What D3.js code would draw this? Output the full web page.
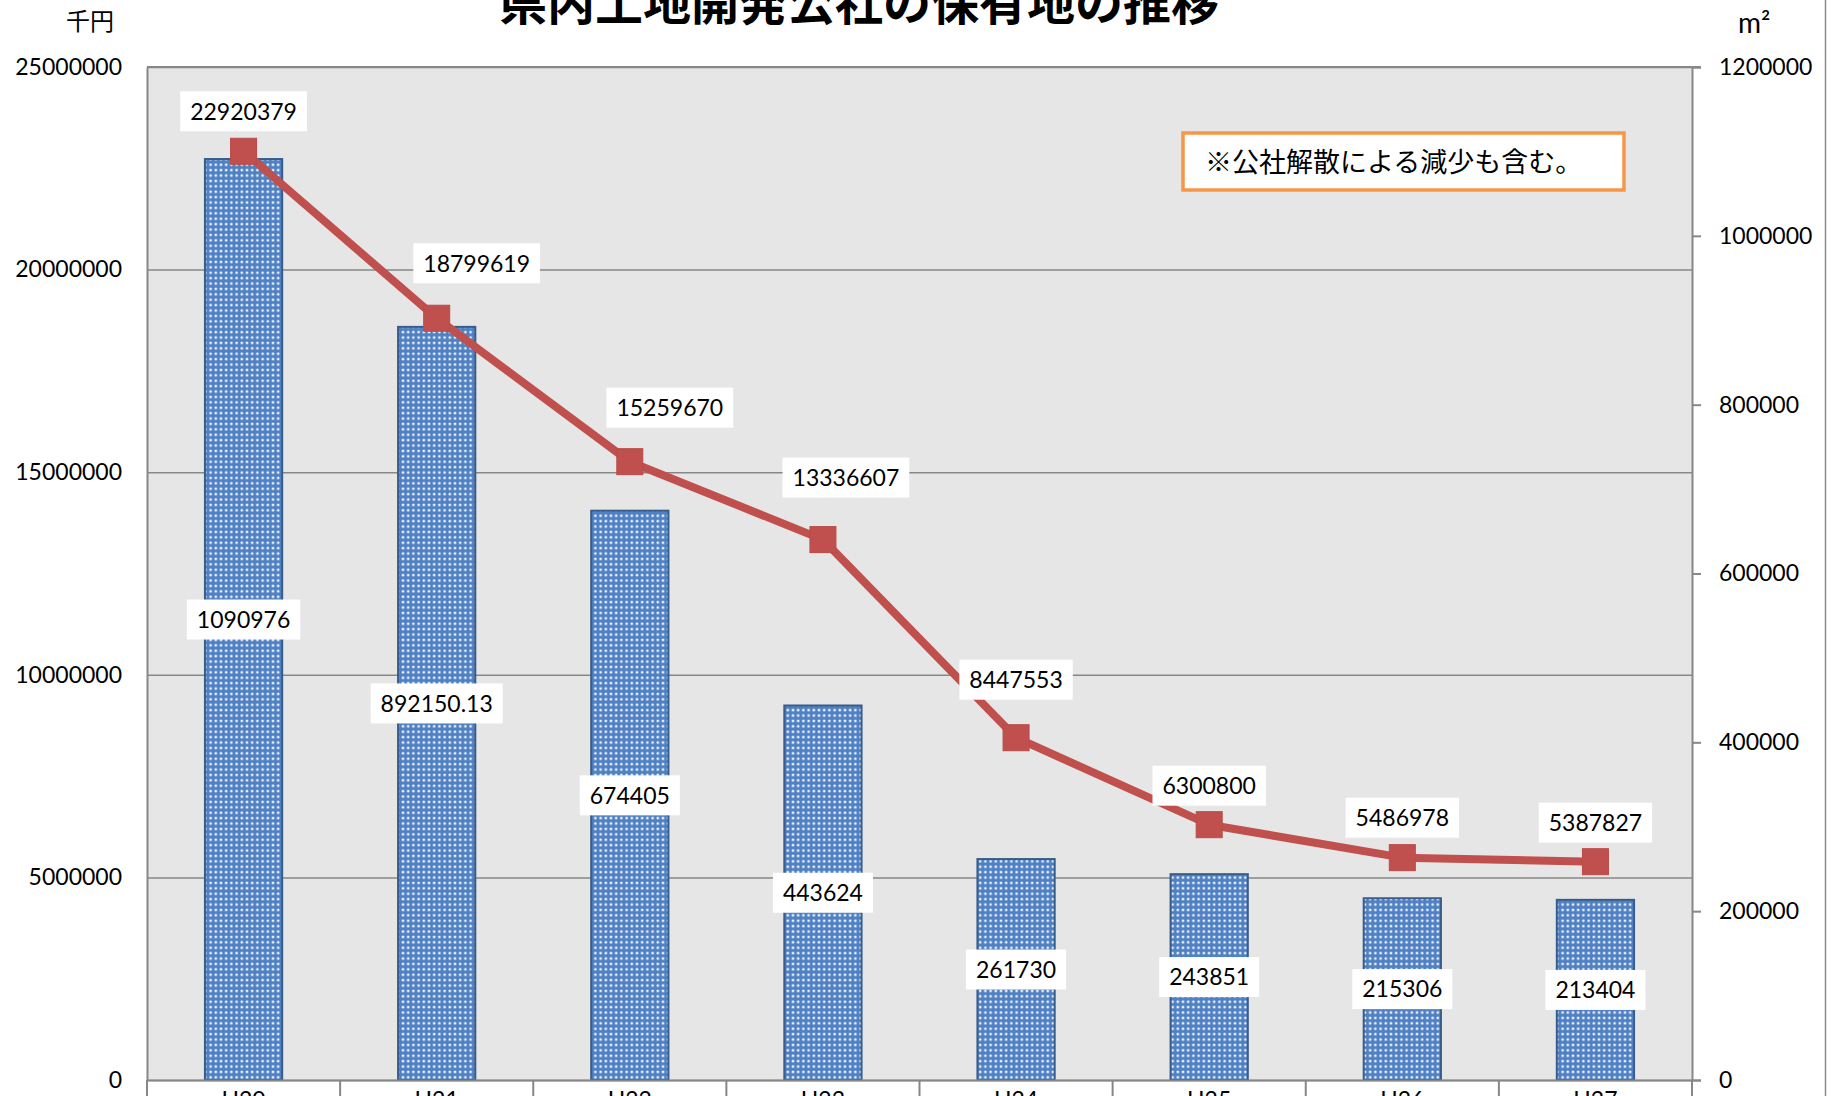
<!DOCTYPE html>
<html>
<head>
<meta charset="utf-8">
<script src="https://cdn.jsdelivr.net/npm/d3@7"></script>
<style>
  html, body { margin: 0; padding: 0; background: #fff; overflow: hidden; }
  svg { display: block; }
</style>
</head>
<body>
<div id="chart"></div>
<script>
// categories (fiscal years) and the two series
const categories = ["H20", "H21", "H22", "H23", "H24", "H25", "H26", "H27"];
const areaValues = [1090976, 892150.13, 674405, 443624, 261730, 243851, 215306, 213404]; // m2, bars, right axis
const costValues = [22920379, 18799619, 15259670, 13336607, 8447553, 6300800, 5486978, 5387827]; // 千円, line, left axis
const leftTicks = [0, 5000000, 10000000, 15000000, 20000000, 25000000];
const rightTicks = [0, 200000, 400000, 600000, 800000, 1000000, 1200000];

// line labels were moved by hand in the original, keep the nudges separate
const lineLabelNudge = [[0, -40], [40, -55], [40, -54], [23, -62], [0, -58], [0, -39], [0, -40], [0, -39]];

const width = 1833;
const height = 1096;
const plot = { left: 147, right: 1692, top: 67, bottom: 1080 };
const numFont = "Lato, 'Noto Sans', sans-serif";
const jpFont = "'Noto Sans CJK JP', sans-serif";

const svg = d3
  .select("#chart")
  .append("svg")
  .attr("width", width)
  .attr("height", height);

// dotted fill of the bars
const pattern = svg
  .append("defs")
  .append("pattern")
  .attr("id", "dots")
  .attr("patternUnits", "userSpaceOnUse")
  .attr("width", 5.2)
  .attr("height", 5.4);
pattern.append("rect").attr("width", 5.2).attr("height", 5.4).attr("fill", "#4f80c2");
pattern
  .append("circle")
  .attr("cx", 2.6)
  .attr("cy", 2.7)
  .attr("r", 1.65)
  .attr("fill", "#9dbbe6");
pattern
  .append("circle")
  .attr("cx", 2.6)
  .attr("cy", 2.7)
  .attr("r", 1.0)
  .attr("fill", "#ffffff");

// scales
const xCat = d3.scaleBand().domain(categories).range([plot.left, plot.right]);
const xBar = d3
  .scaleBand()
  .domain(categories)
  .range([plot.left, plot.right])
  .paddingInner(0.6)
  .paddingOuter(0.3);
const yLeft = d3.scaleLinear().domain([0, 25000000]).range([plot.bottom, plot.top]);
const yRight = d3.scaleLinear().domain([0, 1200000]).range([plot.bottom, plot.top]);

// plot background
svg
  .append("rect")
  .attr("x", plot.left)
  .attr("y", plot.top)
  .attr("width", plot.right - plot.left)
  .attr("height", plot.bottom - plot.top)
  .attr("fill", "#e6e6e6");

// gridlines
svg
  .append("g")
  .attr("transform", `translate(${plot.left},0)`)
  .call(
    d3
      .axisLeft(yLeft)
      .tickValues(leftTicks)
      .tickSize(-(plot.right - plot.left))
      .tickFormat("")
  )
  .call((g) => g.select(".domain").remove())
  .call((g) => g.selectAll("line").attr("stroke", "#878787").attr("stroke-width", 1.5));

// bars
svg
  .append("g")
  .selectAll("rect")
  .data(areaValues)
  .join("rect")
  .attr("x", (d, i) => xBar(categories[i]))
  .attr("y", (d) => yRight(d))
  .attr("width", xBar.bandwidth())
  .attr("height", (d) => plot.bottom - yRight(d))
  .attr("fill", "url(#dots)")
  .attr("stroke", "#385d8a")
  .attr("stroke-width", 2);

// left axis (千円)
svg
  .append("g")
  .attr("transform", `translate(${plot.left},0)`)
  .call(d3.axisLeft(yLeft).tickValues(leftTicks).tickSize(0).tickPadding(25).tickFormat(d3.format("d")))
  .call((g) => g.select(".domain").attr("stroke", "#878787").attr("stroke-width", 2))
  .call((g) => g.selectAll("text").attr("font-family", numFont).attr("font-size", 23).attr("fill", "#000"));

// right axis (m2)
svg
  .append("g")
  .attr("transform", `translate(${plot.right},0)`)
  .call(d3.axisRight(yRight).tickValues(rightTicks).tickSize(9).tickSizeOuter(9).tickPadding(18).tickFormat(d3.format("d")))
  .call((g) => g.select(".domain").attr("stroke", "#878787").attr("stroke-width", 2))
  .call((g) => g.selectAll("line").attr("stroke", "#878787").attr("stroke-width", 2))
  .call((g) => g.selectAll("text").attr("font-family", numFont).attr("font-size", 23).attr("fill", "#000"));

// right axis continues down past the category row
svg
  .append("line")
  .attr("x1", plot.right)
  .attr("x2", plot.right)
  .attr("y1", plot.bottom)
  .attr("y2", height)
  .attr("stroke", "#878787")
  .attr("stroke-width", 2);

// top border of plot area
svg
  .append("line")
  .attr("x1", plot.left)
  .attr("x2", plot.right + 9)
  .attr("y1", plot.top)
  .attr("y2", plot.top)
  .attr("stroke", "#878787")
  .attr("stroke-width", 2);

// category axis
svg
  .append("g")
  .attr("transform", `translate(0,${plot.bottom})`)
  .call(d3.axisBottom(xCat).tickSize(0).tickPadding(12))
  .call((g) => g.select(".domain").attr("stroke", "#878787").attr("stroke-width", 2))
  .call((g) => g.selectAll("text").attr("font-family", numFont).attr("font-size", 23).attr("fill", "#000"));

// separators between categories
svg
  .append("g")
  .selectAll("line")
  .data(categories.concat([null]))
  .join("line")
  .attr("x1", (d) => (d === null ? plot.right : xCat(d)))
  .attr("x2", (d) => (d === null ? plot.right : xCat(d)))
  .attr("y1", plot.bottom)
  .attr("y2", height)
  .attr("stroke", "#878787")
  .attr("stroke-width", 2);

// cost line
const line = d3
  .line()
  .x((d, i) => xCat(categories[i]) + xCat.bandwidth() / 2)
  .y((d) => yLeft(d));

svg
  .append("path")
  .datum(costValues)
  .attr("d", line)
  .attr("fill", "none")
  .attr("stroke", "#c0504d")
  .attr("stroke-width", 8)
  .attr("stroke-linejoin", "round");

const marker = 26;
svg
  .append("g")
  .selectAll("rect")
  .data(costValues)
  .join("rect")
  .attr("x", (d, i) => xCat(categories[i]) + xCat.bandwidth() / 2 - marker / 2)
  .attr("y", (d) => yLeft(d) - marker / 2)
  .attr("width", marker)
  .attr("height", marker)
  .attr("fill", "#c0504d")
  .attr("stroke", "#b94b48")
  .attr("stroke-width", 1);

// white boxed value labels
function addLabel(cx, cy, text) {
  const g = svg.append("g");
  const rect = g.append("rect").attr("fill", "#fff");
  const t = g
    .append("text")
    .attr("x", cx)
    .attr("y", cy)
    .attr("dy", "0.36em")
    .attr("text-anchor", "middle")
    .attr("font-family", numFont)
    .attr("font-size", 23)
    .attr("fill", "#000")
    .text(text);
  const w = t.node().getComputedTextLength();
  rect
    .attr("x", cx - w / 2 - 10)
    .attr("y", cy - 20)
    .attr("width", w + 20)
    .attr("height", 40);
}

areaValues.forEach((d, i) => {
  const cx = xBar(categories[i]) + xBar.bandwidth() / 2;
  const cy = (yRight(d) + plot.bottom) / 2;
  addLabel(cx, cy, String(d));
});

costValues.forEach((d, i) => {
  const cx = xCat(categories[i]) + xCat.bandwidth() / 2 + lineLabelNudge[i][0];
  const cy = yLeft(d) + lineLabelNudge[i][1];
  addLabel(cx, cy, String(d));
});

// note box
svg
  .append("rect")
  .attr("x", 1183)
  .attr("y", 133)
  .attr("width", 441)
  .attr("height", 57)
  .attr("fill", "#fff")
  .attr("stroke", "#f79646")
  .attr("stroke-width", 3.5);

svg
  .append("text")
  .attr("x", 1205)
  .attr("y", 172)
  .attr("font-family", jpFont)
  .attr("font-size", 27)
  .attr("fill", "#000")
  .text("※公社解散による減少も含む。");

// title and unit labels
svg
  .append("text")
  .attr("x", 859)
  .attr("y", 20)
  .attr("text-anchor", "middle")
  .attr("font-family", jpFont)
  .attr("font-weight", 700)
  .attr("font-size", 48)
  .attr("fill", "#000")
  .text("県内土地開発公社の保有地の推移");

svg
  .append("text")
  .attr("x", 90)
  .attr("y", 30)
  .attr("text-anchor", "middle")
  .attr("font-family", jpFont)
  .attr("font-size", 24)
  .attr("fill", "#000")
  .text("千円");

svg
  .append("text")
  .attr("x", 1738)
  .attr("y", 33)
  .attr("font-family", numFont)
  .attr("font-size", 28)
  .attr("fill", "#000")
  .text("m²");

// outer chart border on the right
svg
  .append("line")
  .attr("x1", 1825.5)
  .attr("x2", 1825.5)
  .attr("y1", 0)
  .attr("y2", height)
  .attr("stroke", "#8c8c8c")
  .attr("stroke-width", 1.5);
</script>
</body>
</html>
